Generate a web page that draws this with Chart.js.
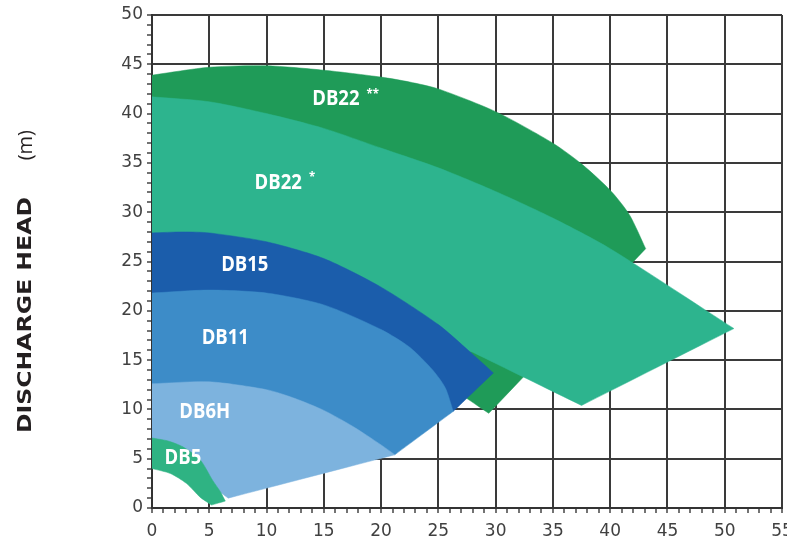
<!DOCTYPE html>
<html>
<head>
<meta charset="utf-8">
<script src="https://cdn.jsdelivr.net/npm/chart.js@4.4.1/dist/chart.umd.min.js"></script>
<style>
  html, body { margin: 0; padding: 0; background: #ffffff; }
  #wrap { width: 787px; height: 541px; position: relative; }
</style>
</head>
<body>
<div id="wrap"><canvas id="pump-chart"></canvas></div>
<script>
// axis ranges (flow on x, discharge head in m on y)
const xMax = 55;
const yMax = 50;
const majorStep = 5;

// outline of each working range, [flow, head] pairs traced round the shape.
// corner points are listed twice so the curve stays sharp there
const db22b = [[0, 43.9], [0, 43.9], [5, 44.7], [10, 44.85], [15, 44.4], [20, 43.7], [22.5, 43.2], [25, 42.5],
  [30, 40.2], [35, 37.0], [37.6, 34.8], [40.1, 32.1], [41.7, 29.7], [43.1, 26.3], [43.1, 26.3], [29.4, 9.6],
  [29.4, 9.6], [27.5, 11.1], [27.5, 11.1], [0, 30], [0, 30], [0, 43.9]];
const db22a = [[0, 41.7], [0, 41.7], [5, 41.2], [10, 40.0], [15, 38.5], [20, 36.5], [25, 34.5], [30, 32.1],
  [35, 29.4], [40, 26.3], [50.8, 18.2], [50.8, 18.2], [37.5, 10.4], [37.5, 10.4], [28, 15.8], [28, 15.8],
  [0, 25], [0, 25], [0, 41.7]];
const db15 = [[0, 27.9], [0, 27.9], [2.7, 28.0], [5, 27.9], [10, 27.0], [15, 25.3], [20, 22.4], [25, 18.6],
  [27.7, 15.9], [29.8, 13.7], [29.8, 13.7], [26.3, 9.8], [26.3, 9.8], [20, 12], [20, 12], [0, 18], [0, 18],
  [0, 27.9]];
const db11 = [[0, 21.8], [0, 21.8], [5, 22.1], [10, 21.8], [15, 20.6], [20, 18.1], [22.5, 16.3], [24.5, 14.0],
  [25.6, 12.2], [26.3, 9.8], [26.3, 9.8], [21.2, 5.4], [21.2, 5.4], [0, 12], [0, 12], [0, 21.8]];
const db6h = [[0, 12.6], [0, 12.6], [5, 12.8], [10, 12.0], [12.5, 11.1], [15, 9.9], [17.5, 8.3], [20, 6.4],
  [21.2, 5.4], [21.2, 5.4], [6.65, 1.0], [6.65, 1.0], [5.5, 2.0], [5.5, 2.0], [4, 4.3], [4, 4.3], [2, 5.3],
  [2, 5.3], [0, 5.5], [0, 5.5], [0, 12.6]];
const db5 = [[0, 7.1], [0, 7.1], [1.4, 6.8], [2.7, 6.2], [4.2, 4.9], [5.3, 2.8], [6.0, 1.6], [6.4, 0.7],
  [6.4, 0.7], [5.2, 0.3], [5.2, 0.3], [4.2, 1.1], [3, 2.5], [1.6, 3.5], [0, 4.0], [0, 4.0], [0, 7.1]];

// model names and where they sit inside their shapes
const modelNames = ["DB22", "DB22", "DB15", "DB11", "DB6H", "DB5"];
const modelMarks = ["**", "*", "", "", "", ""];
const nameX = [16.9, 11.6, 8.1, 6.4, 4.6, 2.7];
const nameY = [41.5, 33.0, 24.6, 17.2, 9.7, 5.1];

const toPoints = (pairs) => pairs.map(([x, y]) => ({ x, y }));

function region(label, pairs, color) {
  return {
    label: label,
    data: toPoints(pairs),
    backgroundColor: color,
    borderColor: color,
    borderWidth: 0.5,
    pointRadius: 0,
    tension: 0.25,
    fill: "shape",
  };
}

// white model names over the shapes, stars set small and raised
const nameLabels = {
  id: "nameLabels",
  afterDatasetsDraw(chart) {
    const { ctx, scales } = chart;
    ctx.save();
    ctx.fillStyle = "#ffffff";
    ctx.textBaseline = "middle";
    ctx.textAlign = "left";
    modelNames.forEach((name, i) => {
      ctx.font = 'bold 21px "Open Sans"';
      const w = ctx.measureText(name).width;
      ctx.font = 'bold 13px "Open Sans"';
      const gap = 8;
      const markW = modelMarks[i] ? gap + ctx.measureText(modelMarks[i]).width : 0;
      const total = (w + markW) * 0.88;
      ctx.save();
      ctx.translate(scales.x.getPixelForValue(nameX[i]) - total / 2, scales.y.getPixelForValue(nameY[i]));
      ctx.scale(0.88, 1);
      ctx.font = 'bold 21px "Open Sans"';
      ctx.fillText(name, 0, 0);
      if (modelMarks[i]) {
        ctx.font = 'bold 13px "Open Sans"';
        ctx.fillText(modelMarks[i], w + gap, -5);
      }
      ctx.restore();
    });
    ctx.restore();
  },
};

// vertical axis title, bold part plus the unit
const headTitle = {
  id: "headTitle",
  afterDraw(chart) {
    const ctx = chart.ctx;
    ctx.save();
    ctx.translate(26, 433);
    ctx.rotate(-Math.PI / 2);
    ctx.fillStyle = "#231f20";
    ctx.textBaseline = "middle";
    ctx.textAlign = "left";
    ctx.font = 'bold 20px "DejaVu Sans"';
    const w = ctx.measureText("DISCHARGE HEAD").width;
    ctx.save();
    ctx.scale(236 / w, 1);
    ctx.fillText("DISCHARGE HEAD", 0, 0);
    ctx.restore();
    ctx.font = '20px "Open Sans"';
    ctx.textAlign = "right";
    ctx.fillText("(m)", 303, 0);
    ctx.restore();
  },
};

const gridColor = (c) => (c.tick && c.tick.value % majorStep === 0 ? "#3a3a3a" : "rgba(0,0,0,0)");
const tickLabel = (v) => (v % majorStep === 0 ? String(v) : "");

const axisTicks = {
  stepSize: 1,
  autoSkip: false,
  maxRotation: 0,
  maxTicksLimit: 100,
  color: "#404040",
  font: { family: "DejaVu Sans", size: 17 },
  callback: tickLabel,
};

const ctx = document.getElementById("pump-chart");
const chart = new Chart(ctx, {
  type: "line",
  data: {
    datasets: [
      region("DB5", db5, "#2fb383"),
      region("DB6H", db6h, "#7db3de"),
      region("DB11", db11, "#3d8cc8"),
      region("DB15", db15, "#1b5dab"),
      region("DB22 *", db22a, "#2db48e"),
      region("DB22 **", db22b, "#1f9b58"),
    ],
  },
  options: {
    responsive: true,
    maintainAspectRatio: false,
    animation: false,
    devicePixelRatio: 1,
    layout: { padding: { top: 15, right: 5, left: 0, bottom: 0 } },
    plugins: {
      legend: { display: false },
      tooltip: { enabled: false },
    },
    scales: {
      x: {
        type: "linear",
        min: 0,
        max: xMax,
        ticks: { ...axisTicks, padding: 8 },
        grid: { color: gridColor, lineWidth: 2, tickLength: 5, tickColor: "#444", tickWidth: 1.5 },
        border: { color: "#333", width: 2 },
        afterFit: (s) => {
          s.height = 33;
          s.paddingLeft = 0;
          s.paddingRight = 0;
        },
      },
      y: {
        type: "linear",
        min: 0,
        max: yMax,
        ticks: { ...axisTicks, padding: 4 },
        grid: { color: gridColor, lineWidth: 2, tickLength: 5, tickColor: "#444", tickWidth: 1.5 },
        border: { color: "#333", width: 2 },
        afterFit: (s) => {
          s.width = 152;
          s.paddingTop = 0;
          s.paddingBottom = 0;
        },
      },
    },
  },
  plugins: [nameLabels, headTitle],
});
</script>
</body>
</html>
